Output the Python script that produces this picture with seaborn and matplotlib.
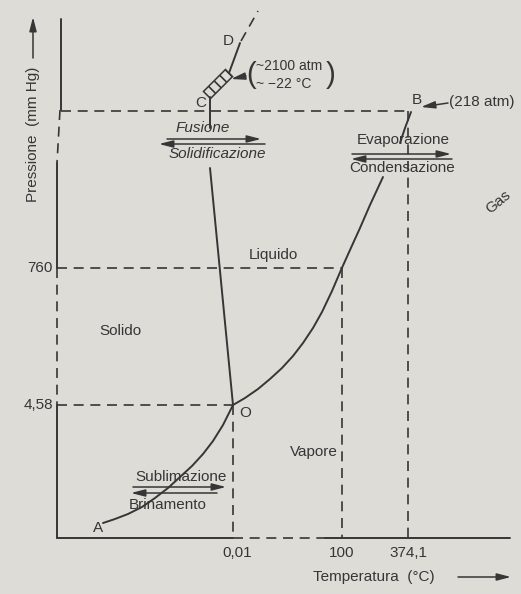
import matplotlib
matplotlib.use("Agg")
import matplotlib.pyplot as plt
from matplotlib.patches import Polygon
import numpy as np
import pandas as pd
import seaborn as sns

# schematic phase diagram of water
# (drawing units = pixels of the original, y grows downwards)
tick_x = [233, 342, 408]
tick_x_labels = ["0,01", "100", "374,1"]
tick_y = [405, 268]
tick_y_labels = ["4,58", "760"]
crit_y = 111
axis_x = 57
axis_y = 538

# sublimation curve A -> O
sub_x = [103, 115, 128, 142, 155, 168, 180, 192, 203, 213, 223, 233]
sub_y = [523, 519, 514, 507, 498, 488, 477, 466, 454, 441, 425, 405]
# vapour pressure curve O -> B (broken by the labels)
vap_low_x = [233, 245, 258, 270, 282, 293, 303, 313, 322, 332, 341, 350, 360, 370, 383]
vap_low_y = [405, 398, 389, 379, 368, 356, 343, 328, 312, 291, 270, 250, 228, 205, 177]
vap_top_x = [400, 405, 411]
vap_top_y = [143, 128, 112]
# melting curve O -> C -> D
melt_low_x = [233, 210]
melt_low_y = [405, 168]
melt_top_x = [210, 210]
melt_top_y = [128, 97]
hatch_x = [207, 229]
hatch_y = [95, 73]
d_solid_x = [229, 240]
d_solid_y = [73, 43]
d_dash_x = [241, 258]
d_dash_y = [41, 11]

bg = "#dddcd7"
ink = "#363636"

sns.set_theme(style="white")
plt.rcParams["font.family"] = ["Liberation Sans", "DejaVu Sans"]

fig = plt.figure(figsize=(5.21, 5.94), dpi=100, facecolor=bg)
ax = fig.add_axes([0, 0, 1, 1])
ax.set_facecolor(bg)


def segs(pairs):
    rows = []
    for i, (xs, ys) in enumerate(pairs):
        for x, y in zip(xs, ys):
            rows.append({"x": x, "y": y, "seg": i})
    return pd.DataFrame(rows)


solid = segs([
    (sub_x, sub_y),
    (vap_low_x, vap_low_y),
    (vap_top_x, vap_top_y),
    (melt_low_x, melt_low_y),
    (melt_top_x, melt_top_y),
    (d_solid_x, d_solid_y),
    # broken axes, solid parts
    ([61, 61], [19, 110]),
    ([axis_x, axis_x], [163, tick_y[1]]),
    ([axis_x, axis_x], [tick_y[0], axis_y]),
    ([axis_x, tick_x[0]], [axis_y, axis_y]),
    ([325, 510], [axis_y, axis_y]),
])
dashed = segs([
    (d_dash_x, d_dash_y),
    ([60, axis_x], [110, 163]),
    ([axis_x, axis_x], [tick_y[1], tick_y[0]]),
    ([tick_x[0], 325], [axis_y, axis_y]),
    # guide lines
    ([61, tick_x[2]], [crit_y, crit_y]),
    ([axis_x, tick_x[1]], [tick_y[1], tick_y[1]]),
    ([axis_x, tick_x[0]], [tick_y[0], tick_y[0]]),
    ([tick_x[0], tick_x[0]], [tick_y[0], axis_y]),
    ([tick_x[1], tick_x[1]], [tick_y[1], axis_y]),
    ([tick_x[2], tick_x[2]], [crit_y, axis_y]),
])

sns.lineplot(data=solid, x="x", y="y", units="seg", estimator=None, sort=False,
             color=ink, lw=1.4, legend=False, ax=ax)
sns.lineplot(data=dashed, x="x", y="y", units="seg", estimator=None, sort=False,
             color=ink, lw=1.2, linestyle=(0, (6, 4)), legend=False, ax=ax)

# hatched strip between C and D
p0 = np.array([hatch_x[0], hatch_y[0]], float)
p1 = np.array([hatch_x[1], hatch_y[1]], float)
d = (p1 - p0) / np.linalg.norm(p1 - p0)
n = np.array([-d[1], d[0]]) * 5
plt.rcParams["hatch.color"] = ink
plt.rcParams["hatch.linewidth"] = 1.2
ax.add_patch(Polygon([p0 + n, p1 + n, p1 - n, p0 - n], closed=True,
                     facecolor="none", edgecolor=ink, lw=1.1, hatch="\\\\\\"))

# arrows
arrows = [
    ((167, 139), (261, 139)), ((265, 144), (159, 144)),
    ((352, 154), (451, 154)), ((452, 159), (351, 159)),
    ((133, 487), (226, 487)), ((217, 493), (131, 493)),
    ((246, 76), (231, 79)), ((448, 103), (421, 107)),
    ((33, 58), (33, 17)), ((458, 577), (511, 577)),
]
for start, end in arrows:
    ax.annotate("", xy=end, xytext=start,
                arrowprops=dict(arrowstyle="-|>,head_length=0.7,head_width=0.18",
                                color=ink, lw=1.1, shrinkA=0, shrinkB=0))

fs = 11
txt = dict(color=ink, fontsize=fs, ha="center", va="center")
ax.text(203, 128, "Fusione", style="italic", **txt)
ax.text(217, 154, "Solidificazione", style="italic", **txt)
ax.text(403, 140, "Evaporazione", **txt)
ax.text(402, 168, "Condensazione", **txt)
ax.text(181, 477, "Sublimazione", **txt)
ax.text(168, 505, "Brinamento", **txt)
ax.text(273, 255, "Liquido", **txt)
ax.text(120, 331, "Solido", **txt)
ax.text(314, 452, "Vapore", **txt)
ax.text(498, 202, "Gas", rotation=40, **txt)
ax.text(98, 528, "A", **txt)
ax.text(245, 413, "O", **txt)
ax.text(201, 103, "C", **txt)
ax.text(228, 41, "D", **txt)
ax.text(417, 100, "B", **txt)
ax.text(449, 102, "(218 atm)", color=ink, fontsize=fs, ha="left", va="center")
ax.text(246, 75, "(", color=ink, fontsize=21, ha="left", va="center")
ax.text(256, 66, "~2100 atm", color=ink, fontsize=10, ha="left", va="center")
ax.text(256, 84, "~ −22 °C", color=ink, fontsize=10, ha="left", va="center")
ax.text(326, 75, ")", color=ink, fontsize=21, ha="left", va="center")

for x, lab in zip(tick_x, tick_x_labels):
    ax.text(x + (4 if lab == "0,01" else 0), 553, lab, **txt)
for y, lab in zip(tick_y, tick_y_labels):
    ax.text(53, y, lab, color=ink, fontsize=fs, ha="right", va="center")

ax.text(313, 577, "Temperatura  (°C)", color=ink, fontsize=fs, ha="left", va="center")
ax.text(33, 202, "Pressione  (mm Hg)", color=ink, fontsize=fs, rotation=90,
        ha="center", va="bottom")

ax.set_xlim(0, 521)
ax.set_ylim(594, 0)
ax.axis("off")

fig.savefig("out.png", dpi=100, facecolor=bg)
